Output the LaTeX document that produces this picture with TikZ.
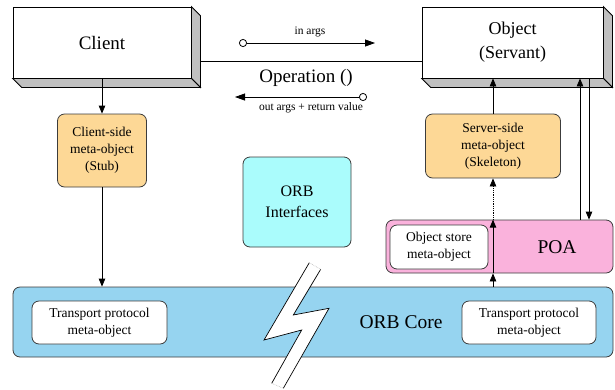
\documentclass[tikz,border=0pt]{standalone}
\usepackage{fontspec}
\setmainfont{Liberation Serif}
\newfontfamily\tnr{Liberation Serif}
\usetikzlibrary{arrows.meta,calc}

\definecolor{stubfill}{RGB}{253,216,150}
\definecolor{poafill}{RGB}{250,178,220}
\definecolor{corefill}{RGB}{150,212,240}
\definecolor{ifacefill}{RGB}{170,252,252}
\definecolor{shade}{RGB}{192,192,192}
\definecolor{edge}{RGB}{60,60,60}

\tikzset{
  fsz/.style n args={2}{font=\tnr\fontsize{#1}{#2}\selectfont},
  solid box/.style={draw=black, fill=white, line width=0.8pt, inner sep=0pt, align=center},
  rbox/.style={draw=edge, line width=0.8pt, rounded corners=7pt, inner sep=0pt, align=center},
  metabox/.style={rbox, fill=stubfill, fsz={13.5}{17}},
  whitebox/.style={rbox, fill=white, fsz={13.5}{17}},
  arr/.style={draw=black, line width=0.8pt, -{Triangle[length=8pt,width=6.5pt]}},
  callarr/.style={draw=black, line width=0.8pt,
    {Circle[open,length=8pt,width=8pt,fill=white]}-{Triangle[length=10pt,width=7pt]}},
}

\begin{document}
\begin{tikzpicture}[x=1pt,y=-1pt]
\useasboundingbox (0,0) rectangle (615,389);

% --- client and servant, drawn as raised boxes
\node[solid box, minimum width=178pt, minimum height=71pt, fsz={19}{24}] (client) at (102,42.5) {Client};
\node[solid box, minimum width=181pt, minimum height=71pt, fsz={18}{24}] (object) at (512.5,42.5) {Object\\(Servant)};
\foreach \b in {client,object}{
  \filldraw[fill=shade, draw=black, line width=0.8pt]
    (\b.north east) -- ++(9,9) -- ($(\b.south east)+(9,9)$) -- (\b.south east) -- cycle;
  \filldraw[fill=shade, draw=black, line width=0.8pt]
    (\b.south west) -- ++(9,9) -- ($(\b.south east)+(9,9)$) -- (\b.south east) -- cycle;
}

% --- link between client and servant
\coordinate (linkL) at (200,61);
\draw[line width=0.8pt] (linkL) -- (object.west |- linkL);

% --- request / reply arrows
\coordinate (inA) at (239,43);
\coordinate (inB) at (375,43);
\draw[callarr] (inA) -- (inB);
\node[fsz={11.5}{14}] (inlbl) at (310,32) {in args};
\node[fsz={19}{22}] (oplbl) at (306,78) {Operation ()};
\coordinate (outA) at (367,97);
\coordinate (outB) at (235,97);
\draw[callarr] (outA) -- (outB);
\node[fsz={11.5}{14}] (outlbl) at (311,108) {out args + return value};

% --- meta-objects
\node[metabox, minimum width=89pt, minimum height=73pt] (stub) at (102,150.5) {Client-side\\meta-object\\(Stub)};
\node[metabox, minimum width=135pt, minimum height=64pt] (skel) at (493,146) {Server-side\\meta-object\\(Skeleton)};
\node[rbox, fill=ifacefill, minimum width=108pt, minimum height=90pt, fsz={16}{21}] (iface) at (297,202) {ORB\\Interfaces};

% --- POA
\node[rbox, fill=poafill, minimum width=227pt, minimum height=53pt] (poa) at (499.5,246.5) {};
\node[whitebox, minimum width=98pt, minimum height=44pt] (store) at (439,247) {Object store\\meta-object};
\node[fsz={19.5}{22}] (poalbl) at (557,247) {POA};

% --- ORB core
\node[rbox, fill=corefill, minimum width=600pt, minimum height=70pt] (core) at (313,322) {};
\node[whitebox, minimum width=135pt, minimum height=43pt] (tpl) at (99.5,322.5) {Transport protocol\\meta-object};
\node[whitebox, minimum width=134pt, minimum height=43pt] (tpr) at (529,322.5) {Transport protocol\\meta-object};
\node[fsz={19.5}{22}] (corelbl) at (401,322) {ORB Core};

% --- network break
\fill[white] (309.3,262.7) -- (264,340) -- (301.7,330) -- (271.7,383.3)
  -- (283.3,388.3) -- (329,308.3) -- (293.3,315) -- (320.7,269.3) -- cycle;
\draw[black, line width=0.7pt] (320.7,269.3) -- (293.3,315) -- (329,308.3) -- (283.3,388.3);
\draw[black, line width=0.7pt] (309.3,262.7) -- (264,340) -- (301.7,330) -- (271.7,383.3);
\draw[gray!60, densely dotted, line width=0.6pt] (309.3,262.7) -- (320.7,269.3);
\draw[gray!60, densely dotted, line width=0.6pt] (271.7,383.3) -- (283.3,388.3);

% --- client side flow
\draw[arr] (client.south) -- (stub.north);
\draw[arr] (stub.south) -- (stub.south |- core.north);

% --- server side flow
\draw[arr] (skel.north) -- (skel.north |- object.south);
\draw[arr] (skel.south |- core.north) -- (skel.south |- poa.south);
\draw[arr] (skel.south |- poa.south) -- (skel.south |- poa.north);
\draw[arr, densely dotted] (skel.south |- poa.north) -- (skel.south);

\coordinate (upx) at (580,0);
\coordinate (dnx) at (589,0);
\draw[arr] (poa.north -| upx) -- (object.south -| upx);
\draw[arr] (object.south -| dnx) -- (poa.north -| dnx);
\end{tikzpicture}
\end{document}
